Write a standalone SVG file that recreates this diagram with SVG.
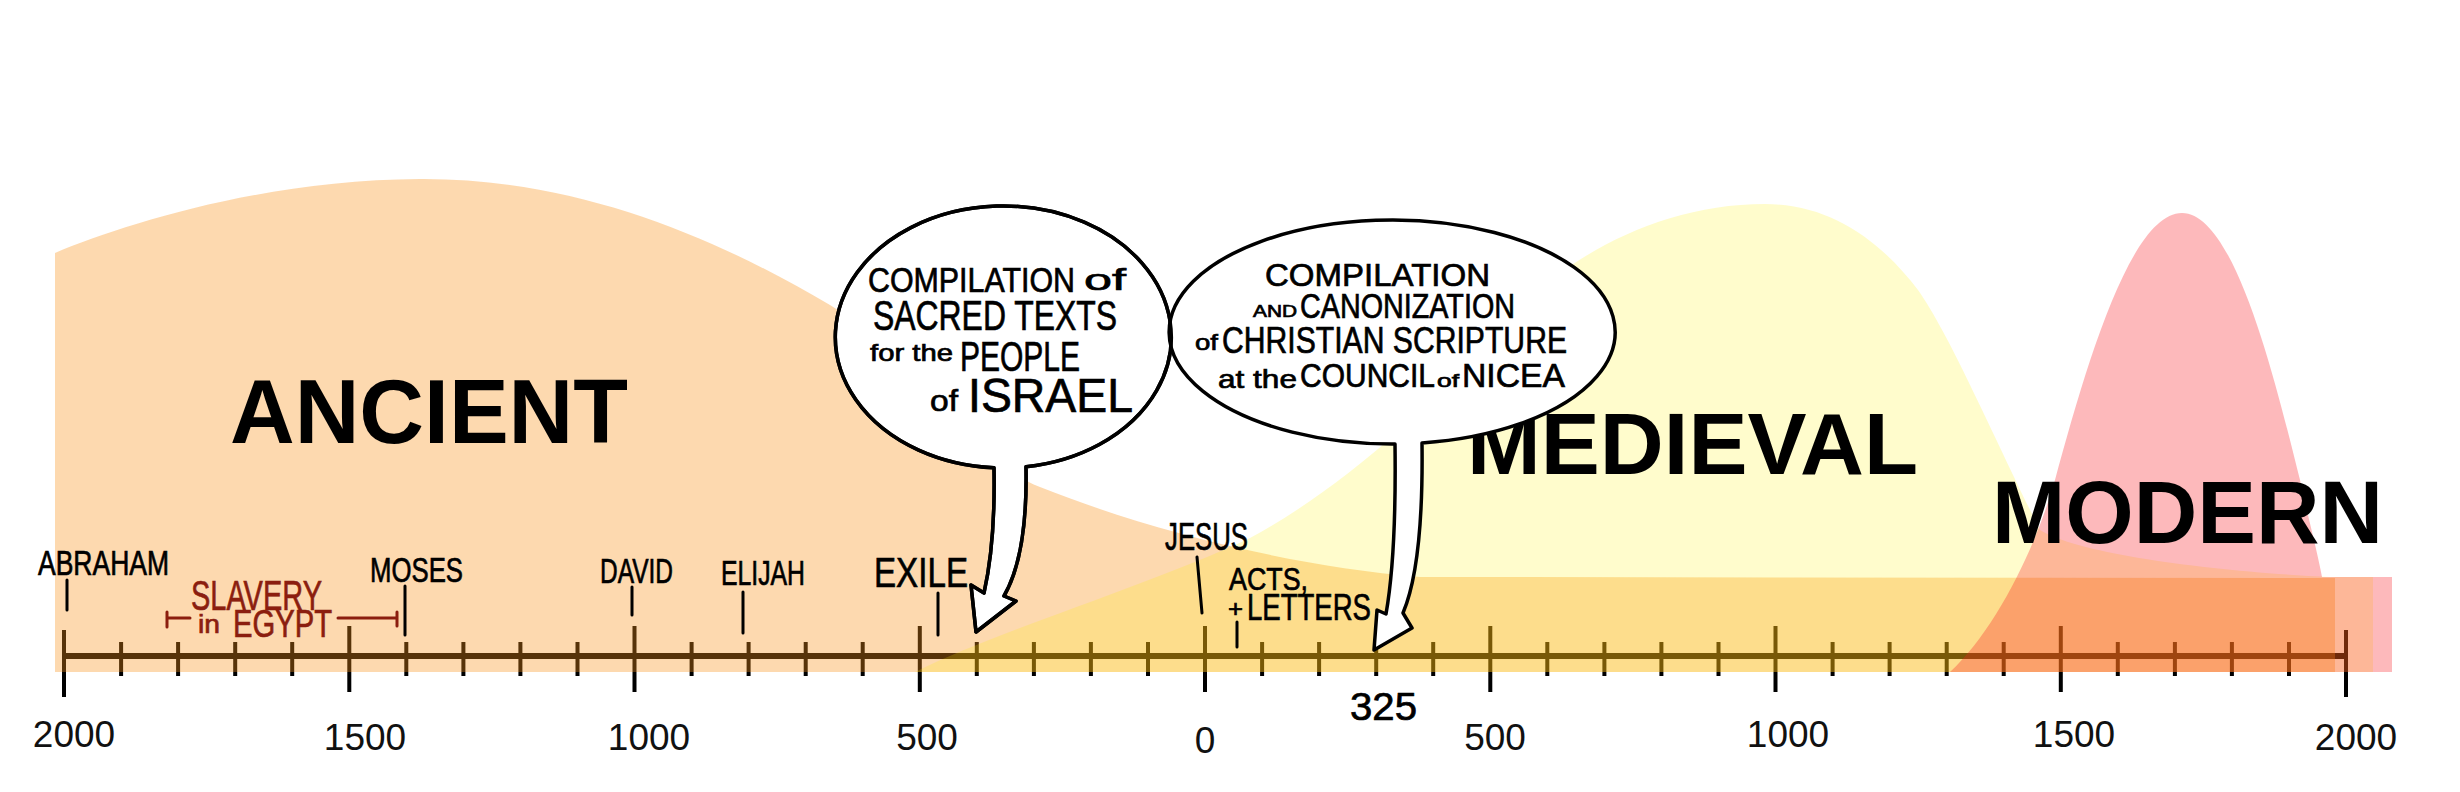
<svg xmlns="http://www.w3.org/2000/svg" width="2460" height="792" viewBox="0 0 2460 792">
<style>
.num{font-family:"Liberation Sans",Arial,sans-serif;font-size:37px;fill:#111;text-anchor:middle}
.era{font-family:"Liberation Sans",Arial,sans-serif;font-weight:bold;fill:#000}
.hand{font-family:"Liberation Sans",Arial,sans-serif;fill:#000;stroke:#000;stroke-width:0.7}
.red{fill:#8B1E0F;stroke:#8B1E0F}
.ev{stroke:#000;stroke-width:3;stroke-linecap:round;fill:none}
.bfill{fill:#fff;stroke:none}
.bstroke{fill:none;stroke:#000;stroke-width:3.5;stroke-linejoin:round}
.tick{stroke:#000;stroke-width:4;fill:none}
</style>
<defs>
<path id="b1shape" d="M994,467.8 A168,131 0 1 1 1026,466.8 C1027,520 1022,565 1004,596 L1016,601 L976,632 L971,585 L984,593 C991,562 995,520 994,467.8 Z"/>
<path id="b2shape" d="M1395,444 A223,112 0 1 1 1422,443 C1423,520 1417,580 1403,613 L1412,628 L1374,650 L1377,610 L1386,614 C1392,580 1396,520 1395,444 Z"/>
</defs>
<rect x="0" y="0" width="2460" height="792" fill="#fff"/>

<g id="axis">
<line x1="64" y1="656" x2="2348" y2="656" stroke="#000" stroke-width="6"/>
<path class="tick" d="M121.1,642V676M178.1,642V676M235.2,642V676M292.2,642V676M406.3,642V676M463.4,642V676M520.4,642V676M577.5,642V676M691.6,642V676M748.6,642V676M805.7,642V676M862.7,642V676M976.8,642V676M1033.9,642V676M1090.9,642V676M1148,642V676M1262.1,642V676M1319.1,642V676M1376.2,642V676M1433.2,642V676M1547.3,642V676M1604.4,642V676M1661.4,642V676M1718.5,642V676M1832.6,642V676M1889.6,642V676M1946.7,642V676M2003.7,642V676M2117.8,642V676M2174.9,642V676M2231.9,642V676M2289,642V676"/>
<path class="tick" d="M64,630V697M349.3,626V692M634.5,626V692M919.8,626V692M1205,626V692M1490.3,626V692M1775.5,626V692M2060.8,626V692M2346,630V697"/>
<text class="num" x="74" y="747">2000</text>
<text class="num" x="365" y="750">1500</text>
<text class="num" x="649" y="750">1000</text>
<text class="num" x="927" y="750">500</text>
<text class="num" x="1205" y="753">0</text>
<text class="num" x="1495" y="750">500</text>
<text class="num" x="1788" y="747">1000</text>
<text class="num" x="2074" y="747">1500</text>
<text class="num" x="2356" y="750">2000</text>
</g>

<g id="ancient">
<path d="M55,672 L55,253 C120,226 260,180 420,179 C580,178 720,240 830,305 C920,360 960,455 1040,487 C1140,527 1280,565 1420,577 L2335,578 L2335,672 Z" fill="rgb(250,147,25)" fill-opacity="0.35"/>
<text class="era" x="230" y="443" font-size="90" textLength="398" lengthAdjust="spacingAndGlyphs">ANCIENT</text>
</g>
<g id="medieval">
<path d="M915,672 C1000,630 1150,585 1250,538 C1330,495 1420,420 1500,330 C1555,262 1655,204 1765,204 C1830,204 1880,240 1918,290 C1950,335 1995,440 2040,530 C2080,555 2220,572 2330,577 L2373,577 L2373,672 Z" fill="rgb(255,240,0)" fill-opacity="0.2"/>
</g>
<g id="modern">
<path d="M1950,672 C1995,630 2035,550 2055,480 C2085,370 2130,213 2182,213 C2235,213 2275,380 2300,480 C2310,525 2318,555 2322,577 L2392,577 L2392,672 Z" fill="rgb(250,30,35)" fill-opacity="0.31"/>
</g>
<g id="era-labels">
<text class="era" x="1467" y="474" font-size="87" textLength="451" lengthAdjust="spacingAndGlyphs">MEDIEVAL</text>
<text class="era" x="1992" y="543" font-size="89" textLength="391" lengthAdjust="spacingAndGlyphs">MODERN</text>
</g>

<g id="connectors">
<path class="ev" d="M67,580V610M405,586V635M632,587V615M743,592V633M938,593V635M1197,557L1202,613M1237,622V647"/>
<path d="M167,612V627M167,618H190M338,618H397M397,612V626" stroke="#8B1E0F" stroke-width="3" fill="none" stroke-linecap="round"/>
</g>

<g id="ev-abraham"><text class="hand" x="38" y="575" font-size="35" textLength="131" lengthAdjust="spacingAndGlyphs">ABRAHAM</text></g>
<g id="ev-slavery">
<text class="hand red" lengthAdjust="spacingAndGlyphs"><tspan x="191" y="610" font-size="42" textLength="131" lengthAdjust="spacingAndGlyphs">SLAVERY</tspan><tspan x="198" y="633" font-size="26" textLength="22" lengthAdjust="spacingAndGlyphs">in</tspan><tspan x="233" y="637" font-size="38" textLength="99" lengthAdjust="spacingAndGlyphs">EGYPT</tspan></text>
</g>
<g id="ev-moses"><text class="hand" x="370" y="582" font-size="35" textLength="93" lengthAdjust="spacingAndGlyphs">MOSES</text></g>
<g id="ev-david"><text class="hand" x="600" y="583" font-size="35" textLength="73" lengthAdjust="spacingAndGlyphs">DAVID</text></g>
<g id="ev-elijah"><text class="hand" x="721" y="585" font-size="35" textLength="84" lengthAdjust="spacingAndGlyphs">ELIJAH</text></g>
<g id="ev-exile"><text class="hand" x="874" y="587" font-size="42" textLength="94" lengthAdjust="spacingAndGlyphs">EXILE</text></g>
<g id="ev-jesus"><text class="hand" x="1165" y="550" font-size="38" textLength="83" lengthAdjust="spacingAndGlyphs">JESUS</text></g>
<g id="ev-acts">
<text class="hand"><tspan x="1229" y="590" font-size="32" textLength="79" lengthAdjust="spacingAndGlyphs">ACTS,</tspan><tspan x="1228" y="617" font-size="24" textLength="15" lengthAdjust="spacingAndGlyphs">+</tspan><tspan x="1247" y="620" font-size="37" textLength="124" lengthAdjust="spacingAndGlyphs">LETTERS</tspan></text>
</g>
<g id="ev-325"><text class="hand" x="1350" y="720" font-size="39" textLength="67" lengthAdjust="spacingAndGlyphs">325</text></g>

<g id="bubble1">
<use href="#b1shape" class="bfill"/>
<use href="#b1shape" class="bstroke"/>
<text class="hand"><tspan x="868" y="292" font-size="35" textLength="207" lengthAdjust="spacingAndGlyphs">COMPILATION</tspan><tspan x="1084" y="290" font-size="30" textLength="42" lengthAdjust="spacingAndGlyphs">of</tspan><tspan x="873" y="330" font-size="42" textLength="244" lengthAdjust="spacingAndGlyphs">SACRED TEXTS</tspan><tspan x="870" y="361" font-size="24" textLength="83" lengthAdjust="spacingAndGlyphs">for the</tspan><tspan x="960" y="371" font-size="42" textLength="120" lengthAdjust="spacingAndGlyphs">PEOPLE</tspan><tspan x="930" y="411" font-size="30" textLength="28" lengthAdjust="spacingAndGlyphs">of</tspan><tspan x="968" y="412" font-size="49" textLength="165" lengthAdjust="spacingAndGlyphs">ISRAEL</tspan></text>
</g>

<g id="bubble2">
<use href="#b2shape" class="bfill"/>
<use href="#b2shape" class="bstroke"/>
<use href="#b1shape" class="bstroke"/>
<text class="hand"><tspan x="1265" y="286" font-size="32" textLength="225" lengthAdjust="spacingAndGlyphs">COMPILATION</tspan><tspan x="1253" y="317" font-size="17" textLength="44" lengthAdjust="spacingAndGlyphs">AND</tspan><tspan x="1300" y="318" font-size="35" textLength="215" lengthAdjust="spacingAndGlyphs">CANONIZATION</tspan><tspan x="1195" y="350" font-size="22" textLength="23" lengthAdjust="spacingAndGlyphs">of</tspan><tspan x="1222" y="353" font-size="36" textLength="345" lengthAdjust="spacingAndGlyphs">CHRISTIAN SCRIPTURE</tspan><tspan x="1218" y="388" font-size="26" textLength="79" lengthAdjust="spacingAndGlyphs">at the</tspan><tspan x="1300" y="387" font-size="34" textLength="135" lengthAdjust="spacingAndGlyphs">COUNCIL</tspan><tspan x="1437" y="387" font-size="18" textLength="22" lengthAdjust="spacingAndGlyphs">of</tspan><tspan x="1462" y="387" font-size="34" textLength="103" lengthAdjust="spacingAndGlyphs">NICEA</tspan></text>
</g>
</svg>
